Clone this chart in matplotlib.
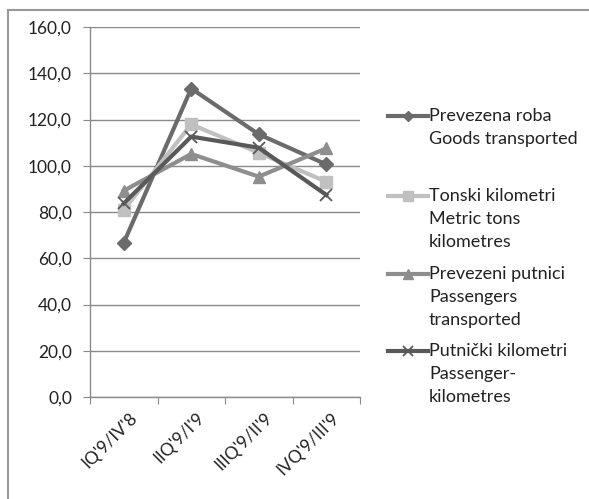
import matplotlib
matplotlib.use("Agg")
import matplotlib.pyplot as plt
from matplotlib.lines import Line2D
from matplotlib.transforms import ScaledTranslation

plt.rcParams['font.family'] = ['Lato', 'DejaVu Sans']

categories = ["IQ'9/IV'8", "IIQ'9/I'9", "IIIQ'9/II'9", "IVQ'9/III'9"]
goods = [66.7, 133.4, 113.6, 100.6]
tons_km = [80.9, 117.9, 105.6, 93.1]
passengers = [89.2, 105.1, 95.3, 107.5]
pass_km = [83.7, 112.6, 107.8, 87.4]
labels = ["Prevezena roba\nGoods transported",
          "Tonski kilometri\nMetric tons\nkilometres",
          "Prevezeni putnici\nPassengers\ntransported",
          "Putnički kilometri\nPassenger-\nkilometres"]
yticks = [0, 20, 40, 60, 80, 100, 120, 140, 160]

W, H = 589, 499
fig = plt.figure(figsize=(W/100, H/100), dpi=100)
ax = fig.add_axes([90/W, 1-397/H, 270/W, 370/H])

x = list(range(len(categories)))
series = [
    (goods, '#6b6b6b', 'D', 7, dict()),
    (tons_km, '#c0c0c0', 's', 9, dict()),
    (passengers, '#8e8e8e', '^', 9, dict()),
    (pass_km, '#595959', 'x', 9, dict(markeredgewidth=1.3)),
]
for data, col, mk, ms, extra in series:
    ax.plot(x, data, color=col, lw=3, marker=mk, markersize=ms,
            markerfacecolor=col, markeredgecolor=col, **extra)

ax.set_xlim(-0.5, 3.5)
ax.set_ylim(0, 160)
ax.set_yticks(yticks)
ax.set_yticklabels([f"{v:.1f}".replace('.', ',') for v in yticks], fontsize=12.5, color='#222222')
ax.yaxis.grid(True, color='#8a8a8a', lw=1)
ax.set_axisbelow(True)
ax.set_xticks([-0.5, 0.5, 1.5, 2.5, 3.5], minor=False)
ax.set_xticklabels([])
ax.set_xticks(x, minor=True)
ax.set_xticklabels(categories, minor=True, rotation=45, ha='right', va='top',
                   rotation_mode='anchor', fontsize=12.5, color='#222222')
ax.tick_params(axis='x', which='minor', length=0, pad=9)
ax.tick_params(axis='x', which='major', length=5, color='#8a8a8a', direction='out')
ax.tick_params(axis='y', length=5, color='#8a8a8a', pad=8)
offset = ScaledTranslation(5/100, 0, fig.dpi_scale_trans)
for lbl in ax.get_xticklabels(minor=True):
    lbl.set_transform(lbl.get_transform() + offset)
for s in ['top', 'right']:
    ax.spines[s].set_visible(False)
for s in ['left', 'bottom']:
    ax.spines[s].set_color('#8a8a8a')
    ax.spines[s].set_linewidth(1)

# legend drawn manually: handle aligned with first text line
entry_y = [116, 196, 274, 351]
line_gap = 23
for (data, col, mk, ms, extra), lab, yy in zip(series, labels, entry_y):
    fy = 1 - yy/H
    fig.add_artist(Line2D([388/W, 428/W], [fy, fy], color=col, lw=3))
    fig.add_artist(Line2D([408/W], [fy], color=col, marker=mk,
                          markersize=ms*0.8, markerfacecolor=col,
                          markeredgecolor=col, lw=0, **extra))
    for i, part in enumerate(lab.split('\n')):
        fig.text(429/W, 1-(yy + i*line_gap)/H, part, fontsize=13,
                 color='#222222', ha='left', va='center')

# outer chart border (top and left visible)
fig.add_artist(Line2D([8/W, 1], [1-10/H, 1-10/H], color='#999999', lw=1.5))
fig.add_artist(Line2D([8/W, 8/W], [0, 1-10/H], color='#999999', lw=1.5))

fig.savefig('out.png', dpi=100)
